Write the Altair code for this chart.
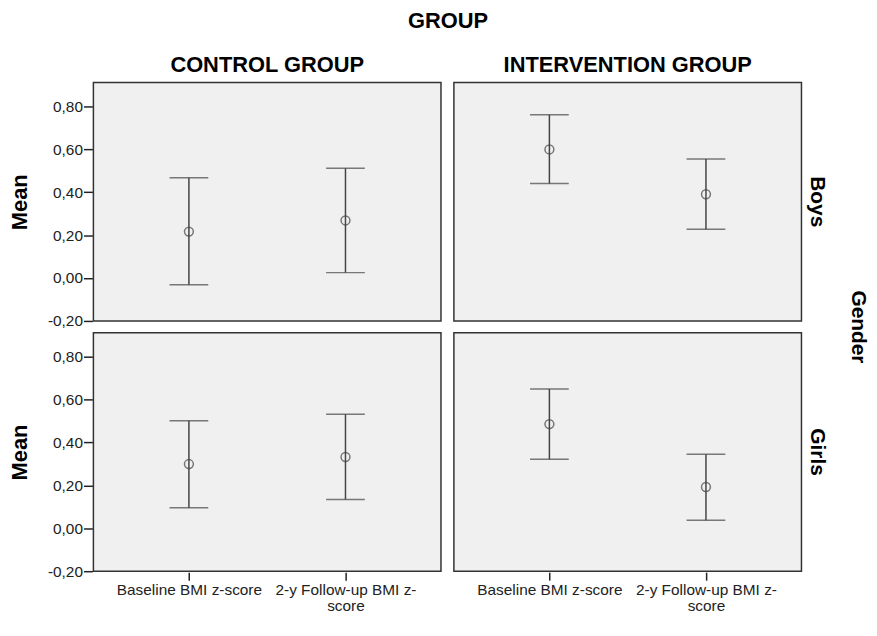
import altair as alt
import pandas as pd

groups = ["CONTROL GROUP", "CONTROL GROUP", "INTERVENTION GROUP", "INTERVENTION GROUP",
          "CONTROL GROUP", "CONTROL GROUP", "INTERVENTION GROUP", "INTERVENTION GROUP"]
genders = ["Boys", "Boys", "Boys", "Boys", "Girls", "Girls", "Girls", "Girls"]
times = ["Baseline BMI z-score", "2-y Follow-up BMI z-score"] * 4
means = [0.216, 0.268, 0.599, 0.390, 0.299, 0.332, 0.485, 0.192]
lows = [-0.032, 0.025, 0.440, 0.227, 0.096, 0.134, 0.321, 0.037]
highs = [0.467, 0.511, 0.760, 0.554, 0.501, 0.531, 0.649, 0.345]

time_order = ["Baseline BMI z-score", "2-y Follow-up BMI z-score"]
y_ticks = [-0.2, 0.0, 0.2, 0.4, 0.6, 0.8]

df = pd.DataFrame({
    "GROUP": groups, "Gender": genders, "time": times,
    "mean": means, "lo": lows, "hi": highs,
})

FONT = "Liberation Sans"
LINE = "#444444"
BOLD_SIZE = 22
ROW_SIZE = 21
LABEL_SIZE = 15.5

x_enc = alt.X("time:N", sort=time_order, title=None,
              scale=alt.Scale(type="point", padding=0.61),
              axis=alt.Axis(labelAngle=0, labelFontSize=LABEL_SIZE, labelFont=FONT, labelColor="#222",
                            tickSize=8, tickColor="#222", tickWidth=1.5, domain=False, labelPadding=2,
                            labelLineHeight=17, labelLimit=300,
                            labelExpr="length(datum.label) > 22 ? [slice(datum.label, 0, 20), slice(datum.label, 20)] : datum.label"))
y_scale = alt.Scale(domain=[-0.2, 0.91], nice=False, zero=False)
y_axis = alt.Axis(values=y_ticks, title="Mean", titleFontSize=BOLD_SIZE, titleFont=FONT,
                  titleFontWeight="bold", titleColor="#000", titlePadding=16,
                  labelFontSize=LABEL_SIZE, labelFont=FONT, labelColor="#222",
                  tickSize=9, tickColor="#222", tickWidth=1.5, domain=False, grid=False, labelPadding=1,
                  labelExpr="replace(replace(format(datum.value, '.2f'), '.', ','), '\u2212', '-')")

base = alt.Chart().encode(x=x_enc)

rule = base.mark_rule(color=LINE, strokeWidth=1.5).encode(
    y=alt.Y("lo:Q", scale=y_scale, axis=y_axis), y2="hi:Q")
cap_lo = base.mark_tick(color=LINE, size=39, thickness=1.5, orient="horizontal").encode(
    y=alt.Y("lo:Q", scale=y_scale, axis=y_axis))
cap_hi = base.mark_tick(color=LINE, size=39, thickness=1.5, orient="horizontal").encode(
    y=alt.Y("hi:Q", scale=y_scale, axis=y_axis))
pts = base.mark_point(shape="circle", filled=False, color=LINE, size=80, strokeWidth=1.5).encode(
    y=alt.Y("mean:Q", scale=y_scale, axis=y_axis))

layered = alt.layer(rule, cap_lo, cap_hi, pts).properties(width=350, height=240)

chart = layered.facet(
    data=df,
    column=alt.Column("GROUP:N", title="GROUP",
                      header=alt.Header(labelFontSize=BOLD_SIZE, labelFont=FONT, labelFontWeight="bold",
                                        labelColor="#000", labelPadding=5,
                                        titleFontSize=BOLD_SIZE, titleFont=FONT, titleFontWeight="bold",
                                        titleColor="#000", titlePadding=11)),
    row=alt.Row("Gender:N", title="Gender",
                header=alt.Header(labelOrient="right", labelAngle=90, labelFontSize=ROW_SIZE,
                                  labelFont=FONT, labelFontWeight="bold", labelColor="#000",
                                  labelPadding=5, titleOrient="right", titleAngle=90,
                                  titleFontSize=ROW_SIZE, titleFont=FONT, titleFontWeight="bold",
                                  titleColor="#000", titlePadding=10)),
    spacing={"row": 10, "column": 11},
).properties(
    padding={"left": 0, "top": 0, "right": 0, "bottom": 0}
).configure(
    background="white"
).configure_view(
    fill="#f0f0f0", stroke="#333333", strokeWidth=1.5
)

chart.save("out.html", embed_options={"renderer": "svg", "actions": False})
